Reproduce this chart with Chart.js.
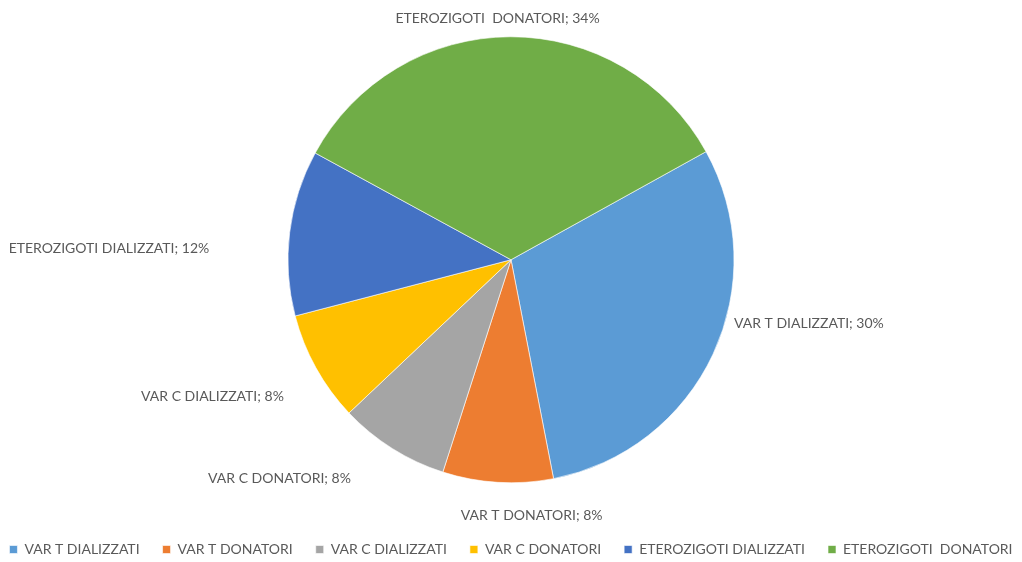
<!DOCTYPE html>
<html>
<head>
<meta charset="utf-8">
<script src="https://cdn.jsdelivr.net/npm/chart.js@4/dist/chart.umd.min.js"></script>
<style>
    html, body { margin: 0; padding: 0; background: #fff; }
    #wrap { width: 1022px; height: 562px; }
</style>
</head>
<body>
<div id="wrap"><canvas id="pie-chart"></canvas></div>
<script>
const categories = ["VAR T DIALIZZATI", "VAR T DONATORI", "VAR C DIALIZZATI", "VAR C DONATORI", "ETEROZIGOTI DIALIZZATI", "ETEROZIGOTI  DONATORI"];
const percentages = [30, 8, 8, 8, 12, 34];
// names printed beside each slice in the picture (gray and yellow are swapped there)
const sliceNames = ["VAR T DIALIZZATI", "VAR T DONATORI", "VAR C DONATORI", "VAR C DIALIZZATI", "ETEROZIGOTI DIALIZZATI", "ETEROZIGOTI  DONATORI"];
const sliceColors = ["#5B9BD5", "#ED7D31", "#A5A5A5", "#FFC000", "#4472C4", "#70AD47"];

// [angle shift in degrees, distance past the rim] for each slice label
const labelPlacement = [[-9, 9], [-8, 34], [4, 48], [-2, 42], [-4.8, 79], [-3, 19]];

const sliceLabelPlugin = {
    id: "sliceLabels",
    afterDatasetsDraw(chart) {
        const ctx = chart.ctx;
        const meta = chart.getDatasetMeta(0);
        ctx.save();
        ctx.font = "14px Lato";
        ctx.fillStyle = "#595959";
        ctx.textBaseline = "middle";
        meta.data.forEach((arc, i) => {
            const p = arc.getProps(["x", "y", "startAngle", "endAngle", "outerRadius"], true);
            const mid = (p.startAngle + p.endAngle) / 2 + labelPlacement[i][0] * Math.PI / 180;
            const d = p.outerRadius + labelPlacement[i][1];
            const x = p.x + Math.cos(mid) * d;
            const y = p.y + Math.sin(mid) * d;
            const c = Math.cos(mid);
            ctx.textAlign = c > 0.3 ? "left" : (c < -0.3 ? "right" : "center");
            ctx.fillText(sliceNames[i] + "; " + percentages[i] + "%", x, y);
        });
        ctx.restore();
    }
};

const ctx = document.getElementById("pie-chart").getContext("2d");

const pieChart = new Chart(ctx, {
    type: "pie",
    data: {
        labels: categories,
        datasets: [{
            data: percentages,
            backgroundColor: sliceColors,
            borderColor: "rgba(255, 255, 255, 0.6)",
            borderWidth: 1,
            radius: 223
        }]
    },
    options: {
        responsive: true,
        maintainAspectRatio: false,
        animation: false,
        rotation: 61,
        layout: { padding: { top: -3.5, bottom: -4.5, left: -30, right: -30 } },
        plugins: {
            legend: {
                position: "bottom",
                labels: {
                    boxWidth: 8,
                    boxHeight: 8,
                    padding: 23,
                    color: "#595959",
                    font: { family: "Lato", size: 14 }
                }
            },
            tooltip: { enabled: false }
        }
    },
    plugins: [sliceLabelPlugin]
});
</script>
</body>
</html>
